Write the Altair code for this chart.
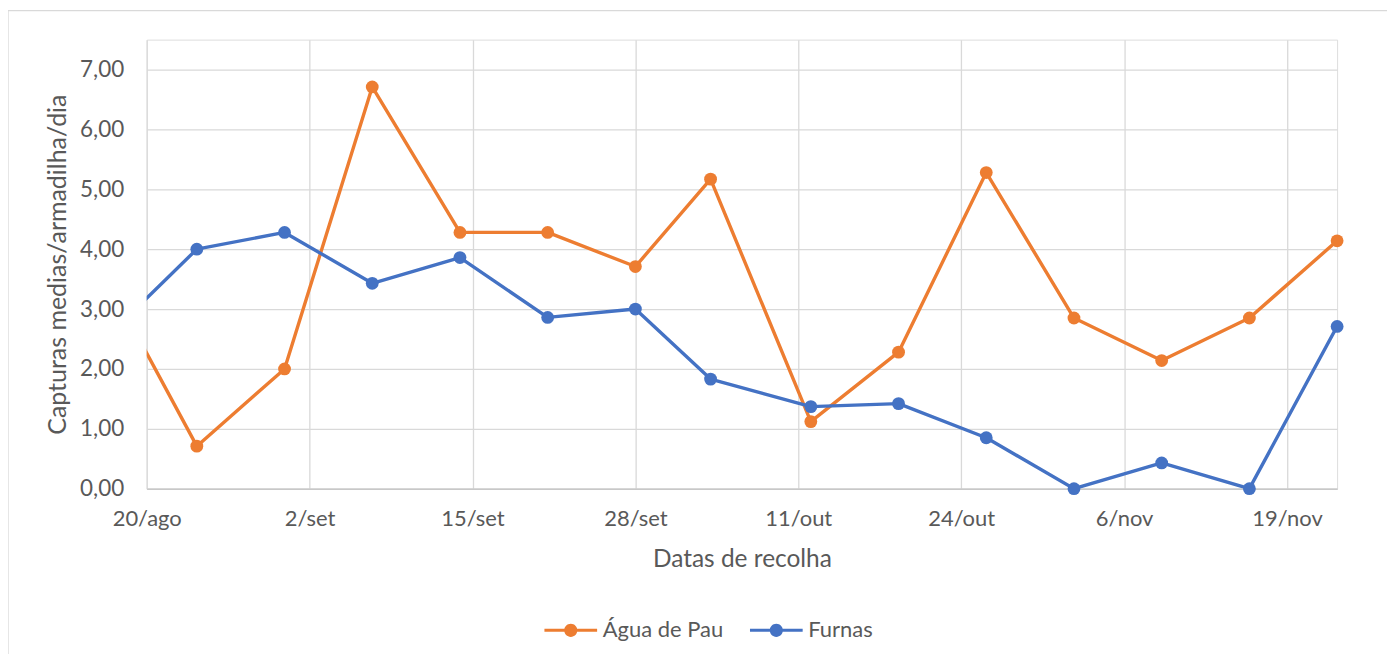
import altair as alt
import pandas as pd

# ---- data ----
datas = ["2019-08-17", "2019-08-24", "2019-08-31", "2019-09-07", "2019-09-14",
         "2019-09-21", "2019-09-28", "2019-10-04", "2019-10-12", "2019-10-19",
         "2019-10-26", "2019-11-02", "2019-11-09", "2019-11-16", "2019-11-23"]
agua_de_pau = [3.43, 0.71, 2.00, 6.71, 4.28, 4.28, 3.71, 5.17, 1.12, 2.28,
               5.28, 2.85, 2.14, 2.85, 4.14]
furnas = [2.57, 4.00, 4.28, 3.43, 3.86, 2.86, 3.00, 1.83, 1.37, 1.42,
          0.85, 0.00, 0.43, 0.00, 2.71]
series = ["Água de Pau", "Furnas"]
cores = ["#ED7D31", "#4472C4"]
x_ticks = ["2019-08-20", "2019-09-02", "2019-09-15", "2019-09-28",
           "2019-10-11", "2019-10-24", "2019-11-06", "2019-11-19"]
x_domain = ["2019-08-20", "2019-11-23"]
y_ticks = [0, 1, 2, 3, 4, 5, 6, 7]
y_domain = [0, 7.5]


def ms(s):
    return int(pd.Timestamp(s, tz="UTC").value // 10**6)


rows = []
for nome, vals in zip(series, [agua_de_pau, furnas]):
    for d, v in zip(datas, vals):
        rows.append({"t": ms(d), "serie": nome, "valor": v})
df = pd.DataFrame(rows)

FONT = "Lato"
GREY = "#595959"
GRID = "#d9d9d9"

meses = "['jan','fev','mar','abr','mai','jun','jul','ago','set','out','nov','dez']"

x_enc = alt.X(
    "t:T",
    scale=alt.Scale(type="utc", domain=[ms(d) for d in x_domain], nice=False),
    axis=alt.Axis(
        values=[ms(d) for d in x_ticks],
        labelExpr="utcdate(datum.value) + '/' + " + meses + "[utcmonth(datum.value)]",
        grid=True, gridColor=GRID, gridWidth=1.3,
        ticks=False, domain=True, domainColor="#c8c8c8", domainWidth=1.5,
        labelFont=FONT, labelFontSize=22, labelColor=GREY, labelPadding=20,
        labelFlush=False, labelOverlap=False,
        title="Datas de recolha", titleFont=FONT, titleFontSize=24.5,
        titleColor=GREY, titleFontWeight="normal",
        titleBaseline="alphabetic", titleY=78,
    ),
)
y_enc = alt.Y(
    "valor:Q",
    scale=alt.Scale(domain=y_domain, nice=False, zero=True),
    axis=alt.Axis(
        values=y_ticks,
        labelExpr="replace(format(datum.value, '.2f'), '.', ',')",
        grid=True, gridColor=GRID, gridWidth=1.3,
        ticks=False, domain=False,
        labelFont=FONT, labelFontSize=22.5, labelColor=GREY, labelPadding=23,
        title="Capturas medias/armadilha/dia", titleFont=FONT, titleFontSize=25,
        titleColor=GREY, titleFontWeight="normal",
        titleAngle=270, titleBaseline="alphabetic", titleAlign="center",
        titleX=-81, titleY=225,
    ),
)

legend_symbol = ("M-4.4,-0.25 H-0.97 V0.25 H-4.4 Z "
                 "M0.97,-0.25 H4.4 V0.25 H0.97 Z "
                 "M1.1,0 A1.1,1.1 0 1,1 -1.1,0 A1.1,1.1 0 1,1 1.1,0 Z")
legend = alt.Legend(
    title=None, orient="none", legendX=414, legendY=581, direction="horizontal",
    symbolType=legend_symbol, symbolSize=144, symbolStrokeWidth=0, symbolOpacity=1,
    labelFont=FONT, labelFontSize=22, labelColor=GREY, labelOffset=21,
    columnPadding=26,
)

border = alt.Chart(pd.DataFrame({"k": [0]})).mark_rect(
    fillOpacity=0, stroke=GRID, strokeWidth=1.3
).encode(x=alt.value(-139), x2=alt.value(1500), y=alt.value(-29), y2=alt.value(800))

layers = [border]
t0 = ms(x_domain[0])
for nome, cor in zip(series, cores):
    d = df[df.serie == nome]
    dp = d[d.t >= t0]
    line = alt.Chart(d).mark_line(
        clip=True, strokeWidth=3.4, strokeJoin="round", strokeCap="round", color=cor
    ).encode(x=x_enc, y=y_enc)
    pts = alt.Chart(dp).mark_point(filled=True, size=165, opacity=1, strokeWidth=0).encode(
        x=x_enc, y=y_enc,
        fill=alt.Fill("serie:N", scale=alt.Scale(domain=series, range=cores),
                      legend=legend),
    )
    layers += [line, pts]

chart = alt.layer(*layers).properties(
    width=1193, height=450,
    autosize=alt.AutoSizeParams(type="none"),
    padding={"left": 139, "top": 31, "right": 50, "bottom": 165},
).configure_view(strokeOpacity=0).configure(background="white")

chart.save("out.html", embed_options={"renderer": "svg", "actions": False})
